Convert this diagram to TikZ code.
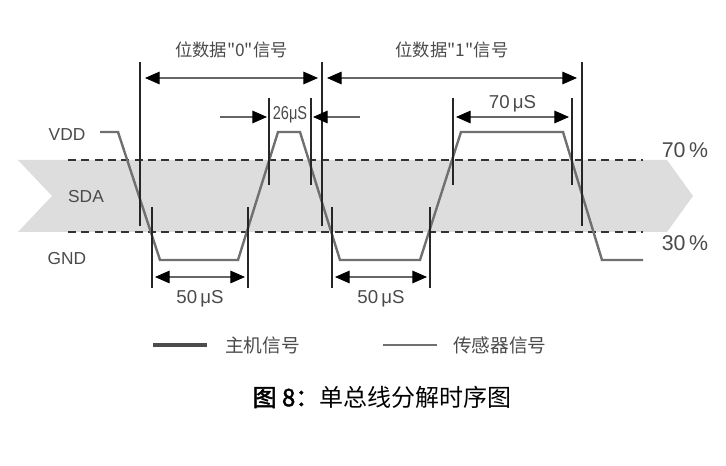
\documentclass[tikz,border=0pt]{standalone}
\usepackage{fontspec}
\setmainfont{Liberation Sans}
\newfontfamily\cjk{Noto Sans CJK SC}[AutoFakeBold=2]
\usetikzlibrary{arrows.meta}
\definecolor{bandgray}{HTML}{DDDDDD}
\definecolor{wavegray}{HTML}{707070}
\definecolor{textgray}{HTML}{4A4A4A}
\tikzset{
  tip/.tip={Triangle[length=11pt,width=9.5pt,color=black]},
  wave/.style={line width=1.8pt,wavegray,line join=miter},
  marker/.style={line width=1.3pt,black!85},
  level/.style={line width=1.3pt,black!80,dash pattern=on 6pt off 4pt},
  dim/.style={line width=0.8pt,black!60,tip-tip},
  lbl/.style={text=textgray,font=\fontsize{13}{15}\selectfont,inner sep=0pt},
  cjklbl/.style={text=textgray,font=\cjk\fontsize{13}{15}\selectfont,inner sep=0pt},
}
\begin{document}
\begin{tikzpicture}[x=0.75pt,y=-0.75pt]
        \useasboundingbox (0,0) rectangle (726,466);
        %% grey band between the two thresholds
        \fill[bandgray] (18,160) -- (667,160) -- (693,196) -- (667,232) -- (18,232) -- (52,196) -- cycle;
        \draw[level] (68,160) -- (643,160);
        \draw[level] (68,232) -- (643,232);
        %% signal
        \draw[wave] (100,132) -- (118,132) -- (160,260) -- (238,260) -- (278,132) -- (300,132)
            -- (340,260) -- (420,260) -- (461,132) -- (563,132) -- (602,260) -- (643,260);
        %% markers
        \foreach \x in {140,322,582} \draw[marker] (\x,62) -- (\x,226);
        \foreach \x in {269,311,453,572} \draw[marker] (\x,98) -- (\x,185);
        \foreach \x in {152,248,332,430} \draw[marker] (\x,207) -- (\x,288);
        %% arrow ends
        \foreach \n/\x/\y in {b0a/145/78, b0b/318/78, b1a/327/78, b1b/577/78,
            sa/220/117, sb/267/117, sc/360/117, sd/313/117, ha/456/117, hb/569/117,
            la/155/277, lb/245/277, lc/335/277, ld/427/277}
            \coordinate (\n) at (\x,\y);
        %% labels
        \draw[dim] (b0a) -- (b0b) node[cjklbl,midway,yshift=21pt] (bit0) {位数据"0"信号};
        \draw[dim] (b1a) -- (b1b) node[cjklbl,midway,yshift=21pt] (bit1) {位数据"1"信号};
        \draw[dim,-tip] (sa) -- (sb);
        \draw[dim,-tip] (sc) -- (sd);
        \node[lbl,xscale=0.78,font=\fontsize{14}{16}\selectfont] (t26) at (290,115) {26μS};
        \draw[dim] (ha) -- (hb) node[lbl,midway,yshift=10pt,font=\fontsize{14}{16}\selectfont] (t70) {70\,μS};
        \draw[dim] (la) -- (lb) node[lbl,midway,yshift=-16pt,font=\fontsize{14}{16}\selectfont] (t50a) {50\,μS};
        \draw[dim] (lc) -- (ld) node[lbl,midway,yshift=-16pt,font=\fontsize{14}{16}\selectfont] (t50b) {50\,μS};
        \node[lbl] (vdd) at (67,135) {VDD};
        \node[lbl] (sda) at (86,197) {SDA};
        \node[lbl] (gnd) at (67,259) {GND};
        \node[lbl,font=\fontsize{16}{18}\selectfont] (p70) at (685,150) {70\,\%};
        \node[lbl,font=\fontsize{16}{18}\selectfont] (p30) at (685,243) {30\,\%};
        %% legend
        \coordinate (ma) at (153,345);
        \coordinate (mb) at (207,345);
        \coordinate (sn) at (383,345);
        \coordinate (so) at (437,345);
        \draw[line width=3pt,black!70] (ma) -- (mb);
        \draw[line width=1.8pt,wavegray] (sn) -- (so);
        \node[cjklbl,font=\cjk\fontsize{14}{16}\selectfont,anchor=west] (host) at (225,345) {主机信号};
        \node[cjklbl,font=\cjk\fontsize{14}{16}\selectfont,anchor=west] (sensor) at (453,345) {传感器信号};
        %% caption
        \node[inner sep=0pt,font=\cjk\fontsize{18}{20}\selectfont] (cap) at (382,397) {\textbf{图 8：}单总线分解时序图};
    \end{tikzpicture}
\end{document}
